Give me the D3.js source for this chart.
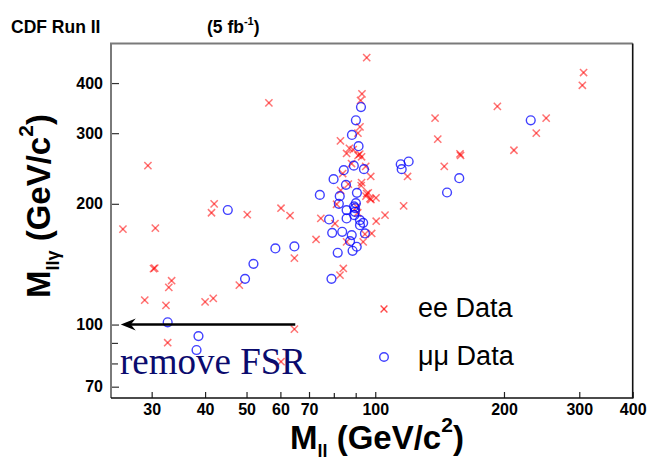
<!DOCTYPE html>
<html>
<head>
<meta charset="utf-8">
<script src="https://cdn.jsdelivr.net/npm/d3@7"></script>
<style>
body { margin: 0; background: #fff; }
text { font-family: "Liberation Sans", Arial, sans-serif; }
</style>
</head>
<body>
<script>
// ee candidates: M_ll and M_llgamma (GeV/c^2)
var eeMll = [95.5, 56.4, 29.4, 93.1, 92.4, 92.1, 91.1, 82.9, 87.0, 88.8,
  91.2, 92.9, 85.7, 88.0, 95.0, 83.9, 97.6, 92.7, 83.0, 95.5,
  100.4, 97.7, 81.2, 42.0, 41.4, 50.2, 60.2, 63.2, 25.7, 30.6,
  307, 305, 193, 138, 251, 238, 140, 211, 157.8, 158.3,
  145, 119, 116.5, 105.4, 100.5, 74.6, 80.5, 72.7, 84.2, 82.7,
  30.5, 30.3, 64.7, 48.1, 33.4, 32.9, 28.9, 32.4, 41.8, 40.0,
  64.7, 32.7, 60.2, 92.0, 92.9, 86.5, 95.1, 97.2, 90.5, 91.0,
  98.1, 94.6, 85.7, 93.7, 96.3]
var eeMllg = [463, 357, 249, 376, 362, 311, 300, 287, 275, 273,
  264, 262, 267, 252, 248, 238, 234, 222, 216, 212,
  207, 205, 199.5, 200, 190, 188, 195, 187, 173, 174,
  425, 395, 350, 327, 327, 300, 290, 272, 266.5, 264,
  248, 234, 197.6, 187.4, 181, 184, 178.6, 163, 138, 132.8,
  138.3, 137.9, 146.4, 125.4, 128.6, 123.8, 115.1, 111.6, 116.2, 113.9,
  97.4, 90.1, 80.8, 266, 226, 224, 209, 206, 196.5, 190,
  168.7, 168, 160.8, 160.8, 213]

// mumu candidates
var mmMll = [92.6, 90.1, 88.2, 91.4, 89.1, 84.4, 94.1, 79.9, 85.4, 90.6,
  74.2, 82.6, 82.2, 89.2, 89.7, 45.2, 231, 114.7, 115.3, 119.7,
  157.2, 147.2, 89.6, 85.7, 85.7, 89.3, 92.1, 93.7, 92.1, 94.6,
  83.7, 79.3, 88.1, 87.3, 90.5, 88.5, 81.7, 78.0, 79.0, 64.7,
  58.4, 51.9, 49.6, 32.7, 38.6, 38.2, 90.1]
var mmMllg = [348.6, 323, 297, 278.4, 249, 242.6, 244, 230.4, 223, 213,
  210.5, 209, 200, 197, 195, 193, 323, 251, 244, 255,
  231.7, 213.4, 191, 192.9, 183.9, 187.4, 182.1, 179.3, 176.9, 168.7,
  170.3, 169.3, 167.1, 161.4, 156.3, 152.7, 151, 182.8, 130, 156.6,
  154.8, 141.7, 130.0, 101.3, 93.6, 86.4, 200.7]

var xTicks = [30, 40, 50, 60, 70, 80, 90, 100, 200, 300, 400]
var xLabeled = [30, 40, 50, 60, 70, 100, 200, 300, 400]
var yTicks = [70, 80, 90, 100, 200, 300, 400]
var yLabeled = [70, 100, 200, 300, 400]
var fsrArrow = [65, 25.4]   // M_ll from -> to, drawn at M_llgamma = 100
var fsrLevel = 100

var width = 650, height = 458
var plotL = 111, plotR = 632.7, plotT = 43.5, plotB = 398

var svg = d3.select("body").append("svg")
  .attr("width", width)
  .attr("height", height)

var x = d3.scaleLog().domain([24.1, 400]).range([plotL, plotR])
var y = d3.scaleLog().domain([65.6, 502]).range([plotB, plotT])

// x axis, ticks pointing inward
var xAxis = svg.append("g")
  .attr("transform", "translate(0," + plotB + ")")
  .call(d3.axisBottom(x).tickValues(xTicks)
    .tickFormat(function(d) { return xLabeled.indexOf(d) >= 0 ? d : "" })
    .tickSizeInner(-6).tickSizeOuter(0).tickPadding(6))
xAxis.select(".domain").remove()
xAxis.selectAll(".tick line")
  .attr("y2", function(d) { return xLabeled.indexOf(d) >= 0 ? -6 : -5 })
  .attr("stroke", "#222").attr("stroke-width", 1.2)
xAxis.selectAll("text")
  .attr("font-size", 16).attr("font-weight", "bold").attr("fill", "#000")

var yAxis = svg.append("g")
  .attr("transform", "translate(" + plotL + ",0)")
  .call(d3.axisLeft(y).tickValues(yTicks)
    .tickFormat(function(d) { return yLabeled.indexOf(d) >= 0 ? d : "" })
    .tickSizeInner(-8).tickSizeOuter(0).tickPadding(8))
yAxis.select(".domain").remove()
yAxis.selectAll(".tick line")
  .attr("x2", function(d) { return yLabeled.indexOf(d) >= 0 ? 8 : 7 })
  .attr("stroke", "#333").attr("stroke-width", 1.2)
yAxis.selectAll("text")
  .attr("font-size", 16).attr("font-weight", "bold").attr("fill", "#000")

// frame: grey top/left, black bottom/right
svg.append("path")
  .attr("d", "M" + plotL + "," + plotB + "V" + plotT + "H" + plotR)
  .attr("fill", "none").attr("stroke", "#7a7a7a").attr("stroke-width", 2)
svg.append("path")
  .attr("d", "M" + plotL + "," + plotB + "H" + plotR + "V" + plotT)
  .attr("fill", "none").attr("stroke", "#111").attr("stroke-width", 1.6)

function drawCross(g, cx, cy, s) {
  g.append("line").attr("x1", cx - s).attr("y1", cy - s).attr("x2", cx + s).attr("y2", cy + s)
  g.append("line").attr("x1", cx - s).attr("y1", cy + s).attr("x2", cx + s).attr("y2", cy - s)
}

var ee = svg.append("g")
  .attr("stroke", "#ff0000").attr("stroke-opacity", 0.55).attr("stroke-width", 1.5)
eeMll.forEach(function(m, i) {
  drawCross(ee, x(m), y(eeMllg[i]), 3.6)
})

svg.append("g").selectAll("circle")
  .data(mmMll)
  .join("circle")
  .attr("cx", function(d) { return x(d) })
  .attr("cy", function(d, i) { return y(mmMllg[i]) })
  .attr("r", 4.4)
  .attr("fill", "none")
  .attr("stroke", "#0000ff").attr("stroke-opacity", 0.75).attr("stroke-width", 1.4)

// FSR arrow
var ay = y(fsrLevel), ax0 = x(fsrArrow[0]), ax1 = x(fsrArrow[1])
svg.append("line")
  .attr("x1", ax0).attr("y1", ay).attr("x2", ax1 + 8).attr("y2", ay)
  .attr("stroke", "#000").attr("stroke-width", 2.6)
svg.append("path")
  .attr("d", "M" + ax1 + "," + ay + "L" + (ax1 + 15) + "," + (ay - 6) +
    "L" + (ax1 + 10) + "," + ay + "L" + (ax1 + 15) + "," + (ay + 6) + "Z")
  .attr("fill", "#000")

svg.append("text")
  .attr("x", 120).attr("y", 374)
  .style("font-family", "'Liberation Serif', 'Times New Roman', serif")
  .attr("font-size", 37).attr("fill", "#0b0b6e")
  .text("remove FSR")

// legend
var lg = svg.append("g")
var lx = svg.append("g")
  .attr("stroke", "#ff0000").attr("stroke-opacity", 0.7).attr("stroke-width", 1.4)
drawCross(lx, 384, 309, 3.4)
lg.append("circle").attr("cx", 384).attr("cy", 357).attr("r", 4.3)
  .attr("fill", "none").attr("stroke", "#0000ff").attr("stroke-opacity", 0.75).attr("stroke-width", 1.4)
lg.append("text").attr("x", 418).attr("y", 317).attr("font-size", 27).text("ee Data")
lg.append("text").attr("x", 418).attr("y", 365).attr("font-size", 27).text("\u03bc\u03bc Data")

// titles
svg.append("text").attr("x", 11).attr("y", 33)
  .attr("font-size", 17.5).attr("font-weight", "bold").text("CDF Run II")
var lum = svg.append("text").attr("x", 207).attr("y", 33)
  .attr("font-size", 17.5).attr("font-weight", "bold")
lum.append("tspan").text("(5 fb")
lum.append("tspan").attr("font-size", 11).attr("dy", -8).text("-1")
lum.append("tspan").attr("dy", 8).text(")")

// axis titles
var xt = svg.append("text").attr("x", 290).attr("y", 449)
  .attr("font-size", 33).attr("font-weight", "bold")
xt.append("tspan").text("M")
xt.append("tspan").attr("font-size", 18).attr("dy", 8).text("ll")
xt.append("tspan").attr("dy", -8).text(" (GeV/c")
xt.append("tspan").attr("font-size", 21).attr("dy", -17).text("2")
xt.append("tspan").attr("dy", 17).text(")")

var yt = svg.append("text")
  .attr("transform", "translate(50,298) rotate(-90)")
  .attr("font-size", 33).attr("font-weight", "bold")
yt.append("tspan").text("M")
yt.append("tspan").attr("font-size", 18).attr("dy", 9).text("ll\u03b3")
yt.append("tspan").attr("dy", -9).text(" (GeV/c")
yt.append("tspan").attr("font-size", 21).attr("dy", -17).text("2")
yt.append("tspan").attr("dy", 17).text(")")
</script>
</body>
</html>
